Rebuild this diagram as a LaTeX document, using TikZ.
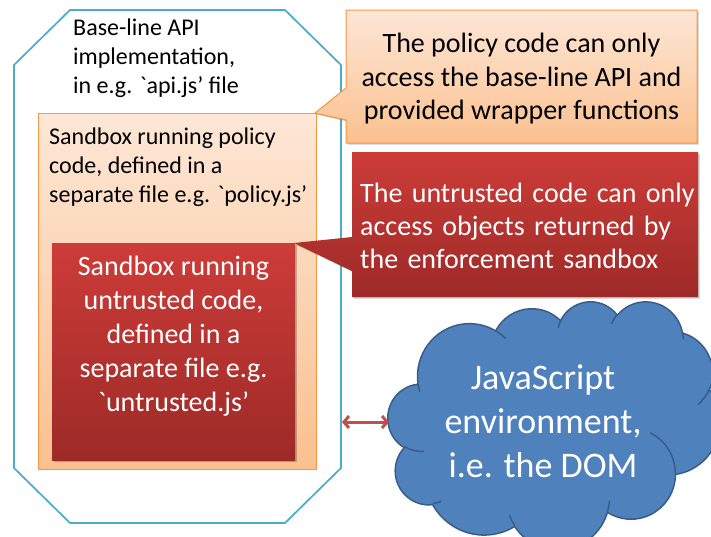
\documentclass[tikz,border=0pt]{standalone}
\usepackage{fontspec}
\setmainfont{Carlito}[Ligatures=TeXOff]
\usetikzlibrary{arrows.meta,shadows}

\definecolor{aqualine}{RGB}{75,172,198}
\definecolor{peachtop}{RGB}{253,231,214}
\definecolor{peachbot}{RGB}{251,192,143}
\definecolor{orangeline}{RGB}{247,150,70}
\definecolor{redtop}{RGB}{205,60,56}
\definecolor{redbot}{RGB}{157,42,40}
\definecolor{cloudfill}{RGB}{79,129,189}
\definecolor{cloudline}{RGB}{56,93,138}
\definecolor{arrowred}{RGB}{192,80,77}

% elliptic arc given by radii and a visual start/sweep angle
\newcommand\cloudarc[4]{%
  \pgfextra{%
    \pgfmathparse{atan2(#1*sin(#3),#2*cos(#3))}\global\let\cldA\pgfmathresult
    \pgfmathparse{atan2(#1*sin(#3+#4),#2*cos(#3+#4))}\let\cldB\pgfmathresult
    \pgfmathparse{mod(\cldB-\cldA+720,360)}\global\let\cldD\pgfmathresult
  }%
  arc[start angle=\cldA, delta angle=\cldD, x radius=#1, y radius=#2]%
}

\tikzset{
  softshadow/.style={general shadow={fill=black, opacity=0.22, shadow xshift=1.5pt, shadow yshift=-1.5pt}},
  peachfill/.style={top color=peachtop, bottom color=peachbot},
  redfill/.style={top color=redtop, bottom color=redbot},
  darktext/.style={inner sep=0pt, text=black},
  lighttext/.style={inner sep=0pt, text=white},
  boxnode/.style={rectangle, inner sep=0pt, anchor=north west},
  link/.style={arrowred, line width=3pt, >={Straight Barb[length=5pt,width=12pt]}, <->},
}

\begin{document}
\begin{tikzpicture}[x=1pt, y=-1pt]
  \fill[white] (0,0) rectangle (711,536);
  \clip (0,0) rectangle (711,536);

  % outer octagon: base-line API implementation
  \draw[aqualine, line width=1.7pt]
    (70,10) -- (285,10) -- (341,65) -- (341,468) -- (285,523)
    -- (70,523) -- (14,468) -- (14,65) -- cycle;
  \coordinate (baseE) at (342,422);
  \node[darktext, anchor=west, align=left, font=\fontsize{24}{29}\selectfont]
    (basetext) at (73,58) {Base-line API\\implementation,\\in e.g. `api.js’ file};

  % policy sandbox
  \node[boxnode, draw=orangeline, line width=1.2pt, peachfill,
        minimum width=278pt, minimum height=356pt] (policy) at (38,113) {};
  \node[darktext, anchor=west, align=left, font=\fontsize{24}{29}\selectfont]
    (policytext) at (49,167) {Sandbox running policy\\code, defined in a\\separate file e.g. `policy.js’};

  % untrusted sandbox
  \node[boxnode, redfill, softshadow,
        minimum width=243pt, minimum height=217pt] (untrusted) at (52,243) {};
  \node[lighttext, align=center, font=\fontsize{28}{34}\selectfont]
    (untrustedtext) at (173.5,336) {Sandbox running\\untrusted code,\\defined in a\\separate file e.g.\\`untrusted.js’};

  % callout about the policy code
  \path[draw=orangeline, line width=1pt, peachfill, softshadow]
    (346,10) -- (697,10) -- (697,143) -- (346,143) -- (346,120)
    -- (315,113) -- (346,88) -- cycle;
  \node[darktext, align=center, font=\fontsize{28}{33.5}\selectfont]
    (policynote) at (521.5,79) {The policy code can only\\access the base-line API and\\provided wrapper functions};

  % callout about the untrusted code
  \path[redfill, softshadow]
    (352,152) -- (698,152) -- (698,297) -- (352,297) -- (352,271)
    -- (294,243) -- (352,237) -- cycle;
  \node[lighttext, anchor=west, text width=329pt, align=left, font=\fontsize{28}{33}\selectfont]
    (untrustednote) at (360,226)
    {\makebox[329pt][s]{The untrusted code can only}\\
     \makebox[329pt][s]{access objects returned by}\\
     the enforcement sandbox};

  % cloud: JavaScript environment
  \begin{scope}[shift={(388,301)}, xscale=3.32, yscale=2.48]
    \path[fill=cloudfill, draw=cloudline, line width=1.5pt]
      (9.028,33.264)
      \cloudarc{15.632}{21.273}{-190.487}{123.781}
      \cloudarc{12.345}{16.822}{-144.102}{89.945}
      \cloudarc{10.104}{13.762}{-145.808}{99.723}
      \cloudarc{11.243}{15.266}{-130.986}{117.242}
      \cloudarc{12.345}{16.836}{-78.709}{109.027}
      \cloudarc{15.683}{21.343}{-46.267}{130.269}
      \cloudarc{13.391}{18.211}{0.625}{114.033}
      \cloudarc{15.630}{21.331}{22.452}{115.173}
      \cloudarc{17.870}{24.405}{66.243}{75.711}
      \cloudarc{10.093}{13.699}{-274.942}{146.736}
      \cloudarc{10.058}{13.762}{-246.829}{152.519}
      -- cycle;
    \path[draw=cloudline, line width=1.5pt]
      (10.863,60.595) \cloudarc{10.058}{13.762}{86.742}{26.430}
      (16.037,80.785) \cloudarc{10.093}{13.699}{73.610}{11.447}
      (38.144,90.486) \cloudarc{15.630}{21.331}{137.624}{14.081}
      (66.729,80.442) \cloudarc{15.630}{21.331}{6.453}{15.998}
      (79.002,53.134) \cloudarc{13.391}{18.211}{-70.292}{70.917}
      (96.755,35.542) \cloudarc{12.345}{16.836}{30.318}{27.752}
      (88.713,12.560) \cloudarc{11.243}{15.266}{-13.744}{14.859}
      (67.310,9.148)  \cloudarc{11.243}{15.266}{-149.181}{18.195}
      (51.252,10.926) \cloudarc{10.104}{13.762}{-163.494}{17.686}
      (32.407,12.019) \cloudarc{15.632}{21.273}{-66.707}{12.319}
      (9.553,36.549)  \cloudarc{15.632}{21.273}{157.654}{11.858};
  \end{scope}
  \coordinate (domW) at (389,422);
  \node[lighttext, align=center, font=\fontsize{36}{44}\selectfont]
    (dom) at (543,421) {JavaScript\\environment,\\i.e. the DOM};

  % link between the sandboxes and the DOM
  \draw[link] (baseE) -- (domW);
\end{tikzpicture}
\end{document}
